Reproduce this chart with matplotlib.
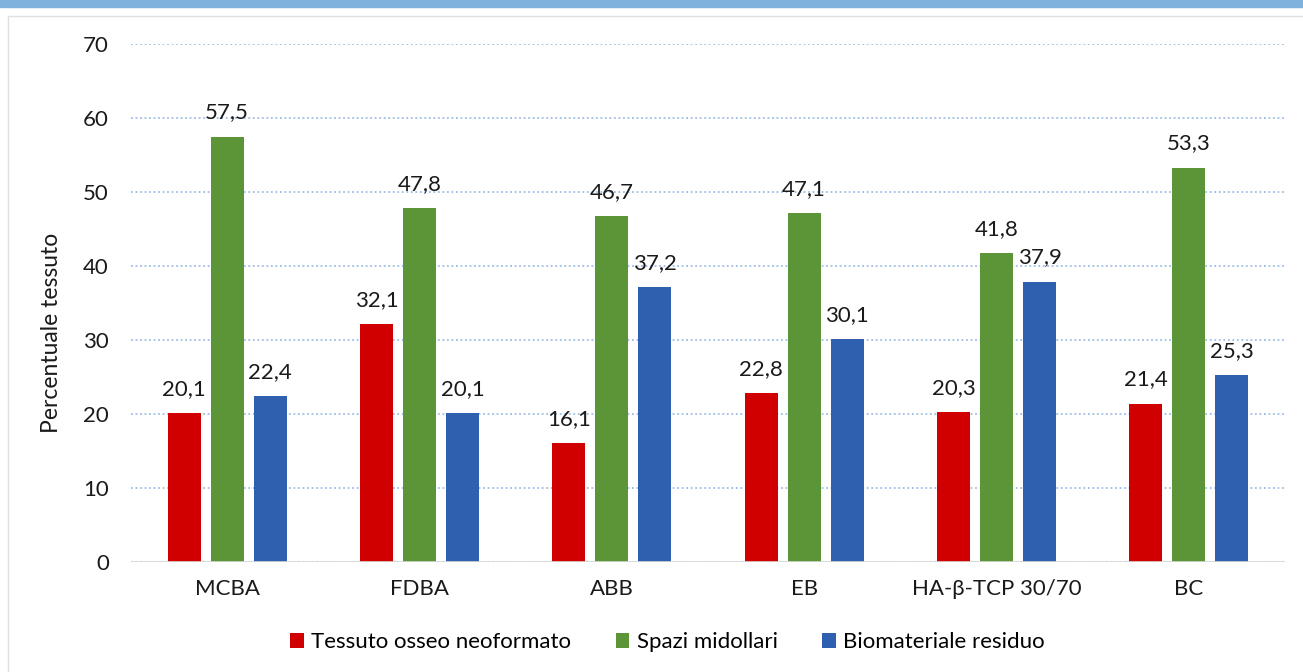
import numpy as np
import matplotlib.pyplot as plt
from matplotlib.patches import Rectangle

plt.rcParams['font.family'] = ['Lato', 'DejaVu Sans']

categories = ['MCBA', 'FDBA', 'ABB', 'EB', 'HA-β-TCP 30/70', 'BC']
series_names = ['Tessuto osseo neoformato', 'Spazi midollari', 'Biomateriale residuo']
neoformato = [20.1, 32.1, 16.1, 22.8, 20.3, 21.4]
midollari = [57.5, 47.8, 46.7, 47.1, 41.8, 53.3]
residuo = [22.4, 20.1, 37.2, 30.1, 37.9, 25.3]
colors = ['#d00000', '#5b9538', '#2f5faf']
fs = 16

fig = plt.figure(figsize=(13.03, 6.72), dpi=100)

# header band and panel frame
fig.patches.append(Rectangle((0, 1 - 7 / 672), 1, 7 / 672, transform=fig.transFigure,
                             color='#7fb2dd', zorder=-2))
fig.patches.append(Rectangle((8 / 1303, -0.01), 1.0, 1 - 16 / 672 + 0.01, transform=fig.transFigure,
                             facecolor='white', edgecolor='#e0e0e0', lw=1, zorder=-2))

ax = fig.add_axes([131 / 1303, (672 - 562) / 672, (1285 - 131) / 1303, (562 - 44) / 672])
ax.set_zorder(1)
ax.patch.set_visible(False)
x = np.arange(len(categories))
width = 0.172
offset = 0.224
for i, (vals, name) in enumerate(zip([neoformato, midollari, residuo], series_names)):
    pos = x + (i - 1) * offset
    ax.bar(pos, vals, width, color=colors[i], label=name, zorder=3)
    for p, v in zip(pos, vals):
        ax.annotate(f'{v:.1f}'.replace('.', ','), (p, v), xytext=(0, 13),
                    textcoords='offset points', ha='center', va='baseline',
                    fontsize=fs, color='#1a1a1a')

ax.set_xlim(-0.5, len(categories) - 0.5)
ax.set_ylim(0, 70)
ax.set_yticks(range(0, 71, 10))
ax.set_xticks(x)
ax.set_xticklabels(categories)
ax.tick_params(axis='both', length=0, labelsize=fs, colors='#1a1a1a')
ax.tick_params(axis='y', pad=16)
ax.tick_params(axis='x', pad=12)
ax.yaxis.grid(True, linestyle=(0, (1, 1.5)), color='#9dbde6', lw=1.3, zorder=0)
ax.axhline(0, color='#d9d9d9', lw=1.2, zorder=4)
for s in ax.spines.values():
    s.set_visible(False)
ax.set_ylabel('Percentuale tessuto', fontsize=16.5, color='#1a1a1a', va='center')
ax.yaxis.set_label_coords(-0.0685, 0.442)

ax.legend(loc='center', bbox_to_anchor=(0.465, -0.155), ncol=3, frameon=False,
          fontsize=fs, handlelength=0.6, handleheight=0.6, handletextpad=0.35,
          columnspacing=2.0)

fig.savefig('out.png', dpi=100)
